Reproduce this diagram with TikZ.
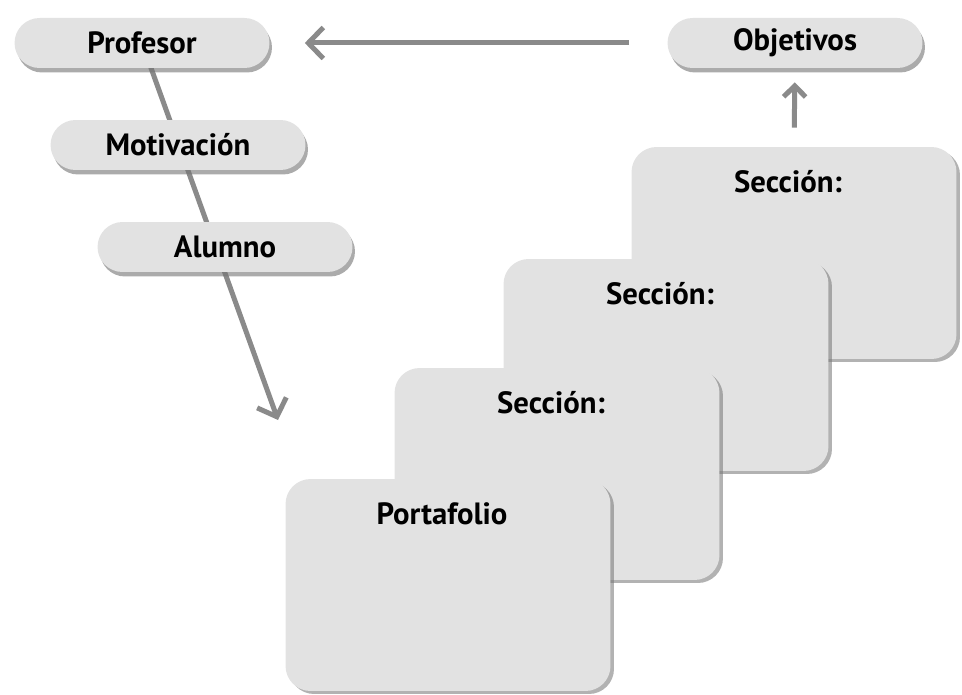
\documentclass[tikz,border=0pt]{standalone}
\usepackage{fontspec}
\setmainfont{PT Sans}
\usepackage{tikz}
\usetikzlibrary{calc}
\usetikzlibrary{arrows.meta}
\usetikzlibrary{shadows}
\usetikzlibrary{backgrounds}
\definecolor{boxgray}{RGB}{226,226,226}
\definecolor{linegray}{RGB}{138,138,138}

\begin{document}
\begin{tikzpicture}[x=0.02cm,y=-0.02cm,>={Straight Barb[length=0.3cm,width=0.62cm]},
pill/.style={rectangle,rounded corners=0.5cm,fill=boxgray,minimum width=5.1cm,minimum height=1cm,font=\bfseries\fontsize{17.5}{20}\selectfont,drop shadow={shadow xshift=0.05cm,shadow yshift=-0.09cm,fill=black!55,opacity=.6}},
card/.style={rectangle,rounded corners=0.5cm,fill=boxgray,minimum width=6.5cm,minimum height=4.24cm,drop shadow={shadow xshift=0.07cm,shadow yshift=-0.06cm,fill=black!55,opacity=.55},label={[anchor=center,xshift=-0.12cm,yshift=-0.7cm,font=\bfseries\fontsize{17.5}{20}\selectfont]north:#1}},
conn/.style={linegray,line width=0.1cm}]

\useasboundingbox (0,0) rectangle (962,695);

% etiquetas
\node[pill] (profesor) at (142,43) {Profesor};
\node[pill] (motivacion) at (178,145) {Motivación};
\node[pill] (alumno) at (225,247) {Alumno};
\node[pill] (objetivos) at (795,43) {Objetivos};

% secciones, de atras hacia delante
\node[card=Sección:] (sec1) at (794,253) {};
\node[card=Sección:] (sec2) at (666,365) {};
\node[card=Sección:] (sec3) at (557,474) {};
\node[card=Portafolio] (portafolio) at (448,585) {};

\coordinate (fin) at (278,420);

\begin{pgfonlayer}{background}
\draw[conn,->] (profesor.center) -- (fin);
\end{pgfonlayer}

\draw[conn,->,shorten <=0.76cm,shorten >=0.7cm] (objetivos.west) -- (profesor.east);
\draw[conn,-{Straight Barb[length=0.22cm,width=0.44cm]},shorten <=0.38cm,shorten >=0.28cm] (sec1.north) -- (objetivos.south);
\end{tikzpicture}
\end{document}
